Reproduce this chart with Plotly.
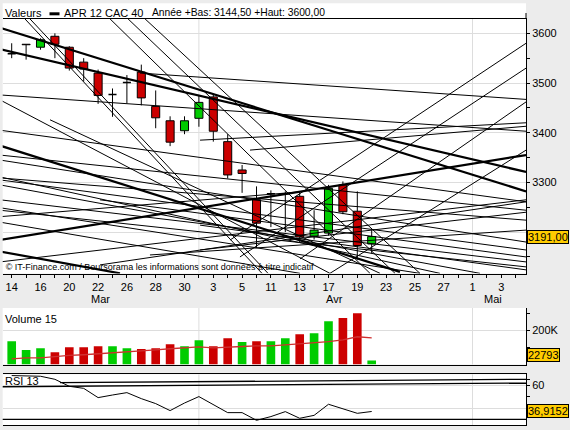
import plotly.graph_objects as go

# ---------------- data ----------------
# trading-day index 0..25  = 14 Mar 2012 .. 20 Apr 2012 (axis extends to 4 May)
day_ticks = list(range(0, 35, 2))
day_labels = ["14", "16", "20", "22", "26", "28", "30", "3", "5", "11", "13",
              "17", "19", "23", "25", "27", "1", "3"]
month_labels = ["Mar", "Avr", "Mai"]
month_pos = [6.2, 22.45, 33.4]
month_starts = [13, 32]

opens = [3559, 3578, 3572, 3594, 3572, 3542, 3520, 3477, 3501, 3522, 3453, 3424, 3404,
         3429, 3472, 3382, 3325, 3265, 3277, 3277, 3272, 3192, 3198, 3295, 3242, 3176]
highs = [3580, 3578, 3590, 3600, 3574, 3550, 3527, 3489, 3516, 3537, 3485, 3433, 3433,
         3476, 3478, 3397, 3335, 3292, 3284, 3282, 3282, 3244, 3295, 3302, 3282, 3204]
lows = [3550, 3547, 3567, 3550, 3525, 3503, 3458, 3432, 3459, 3455, 3409, 3373, 3397,
        3412, 3382, 3308, 3279, 3168, 3210, 3200, 3180, 3185, 3193, 3236, 3144.5, 3157]
closes = [3559, 3577, 3587, 3578, 3530, 3528, 3475, 3477, 3501, 3470, 3430, 3381, 3424,
          3461, 3403, 3315, 3318, 3218, 3277, 3277, 3190, 3204, 3288, 3241, 3173, 3191]

volumes = [136000, 84000, 95000, 72000, 101000, 101000, 107000, 107000, 95000, 90000,
           95000, 119000, 107000, 142000, 107000, 154000, 131000, 136000, 136000,
           154000, 177000, 183000, 253000, 271000, 300000, 22793]
vol_up = [1, 1, 1, 0, 0, 0, 0, 1, 1, 0, 0, 0, 1, 1, 0, 0, 1, 0, 1, 1, 0, 1, 1, 0, 0, 1]
vol_ma = [33000, 39000, 39000, 47000, 53000, 57000, 62000, 68000, 74000, 80000, 86000,
          92000, 97000, 103000, 97000, 103000, 105000, 109000, 109000, 115000, 121000,
          127000, 134000, 144000, 162000, 156000]

rsi = [68.7, 68.7, 68.1, 65.4, 59.2, 57.4, 49.2, 51.5, 53.6, 48.3, 43.9, 37.7, 44.4,
       50.1, 43.3, 35.9, 35.9, 29.1, 32.4, 36.8, 30.9, 33.5, 43.3, 39.5, 35.3, 36.9152]

# drawn trend lines on the price panel: (day0, price0, day1, price1)
thin_lines = [
    (0.92, 3629, 17.38, 3117), (1.27, 3629, 17.80, 3117),
    (6.83, 3629, 24.88, 3117), (8.08, 3629, 26.62, 3117), (9.26, 3629, 28.35, 3117),
    (8.91, 3520, 35.72, 3467),
    (15.16, 3184, 35.72, 3580), (15.85, 3150, 35.72, 3530), (20.02, 3146, 35.72, 3462),
    (22.10, 3117, 35.72, 3365),
    (13.08, 3385, 35.72, 3420), (16.55, 3365, 35.72, 3413),
    (-0.81, 3476, 35.72, 3403),
    (-0.81, 3405, 35.72, 3261), (6.13, 3134, 35.72, 3261),
    (-0.81, 3355, 35.72, 3244), (13.08, 3164, 35.72, 3240),
    (-0.81, 3309, 35.72, 3224), (9.60, 3154, 35.72, 3204),
    (-0.81, 3345, 35.72, 3180), (-0.81, 3305, 35.72, 3164),
    (6.13, 3265, 35.72, 3150), (-0.81, 3265, 35.72, 3140),
    (-0.81, 3244, 35.72, 3130), (13.08, 3214, 35.72, 3124),
    (-0.81, 3220, 20.02, 3117), (-0.81, 3249, 28.35, 3117),
    (-0.81, 3295, 32.52, 3117), (-0.81, 3311, 29.74, 3117),
    (2.66, 3426, 25.58, 3117), (-0.81, 3466, 22.10, 3117),
    (-0.81, 3140, 35.72, 3265), (-0.81, 3231, 20.02, 3281),
]
thick_lines = [
    (-0.81, 3611, 35.72, 3282),
    (-0.81, 3568, 35.72, 3321),
    (-0.81, 3184, 35.72, 3355),
    (-0.81, 3374, 26.96, 3120),
    (-0.81, 3161, 7.52, 3117),
]
rsi_lines = [(3.35, 62.4, 35.72, 65.4), (-0.81, 58.8, 35.72, 62.1), (-0.81, 30, 35.72, 30)]

last_price = "3191,00"
last_volume = "22793"
last_rsi = "36,9152"

# ---------------- figure ----------------
W, H = 570, 430
X0, X1 = -0.625, 35.715
RED, GREEN = "#CC0000", "#00CC00"
n = len(opens)
days = list(range(n))

fig = go.Figure()

# candle wicks (above and below the bodies)
wx, wy = [], []
for i in days:
    lo_b, hi_b = min(opens[i], closes[i]), max(opens[i], closes[i])
    wx += [i, i, None, i, i, None]
    wy += [lows[i], lo_b, None, hi_b, highs[i], None]
fig.add_trace(go.Scatter(x=wx, y=wy, mode="lines", line=dict(color="black", width=1),
                         xaxis="x", yaxis="y", hoverinfo="skip"))

# candle bodies
bx, bb, bh, bc = [], [], [], []
dx, dy = [], []
for i in days:
    if abs(closes[i] - opens[i]) < 0.5:
        dx += [i - 0.28, i + 0.28, None]
        dy += [opens[i], opens[i], None]
    else:
        bx.append(i)
        bb.append(min(opens[i], closes[i]))
        bh.append(abs(closes[i] - opens[i]))
        bc.append(GREEN if closes[i] > opens[i] else RED)
fig.add_trace(go.Bar(x=bx, y=bh, base=bb, width=0.56,
                     marker=dict(color=bc, line=dict(color="black", width=1)),
                     xaxis="x", yaxis="y", hoverinfo="skip"))
fig.add_trace(go.Scatter(x=dx, y=dy, mode="lines", line=dict(color="black", width=1.5),
                         xaxis="x", yaxis="y", hoverinfo="skip"))

# watermark (under the trend lines)
fig.add_trace(go.Scatter(x=[-0.42], y=[3128], mode="text",
                         text=["© IT-Finance.com / Boursorama les informations sont données à titre indicatif"],
                         textposition="middle right",
                         textfont=dict(size=9, color="black", family="Liberation Sans, Arial"),
                         xaxis="x", yaxis="y", hoverinfo="skip"))


def seg(lines):
    xs, ys = [], []
    for a, p, b, q in lines:
        xs += [a, b, None]
        ys += [p, q, None]
    return xs, ys


tx, ty = seg(thin_lines)
fig.add_trace(go.Scatter(x=tx, y=ty, mode="lines", line=dict(color="black", width=1),
                         xaxis="x", yaxis="y", hoverinfo="skip"))
tx, ty = seg(thick_lines)
fig.add_trace(go.Scatter(x=tx, y=ty, mode="lines", line=dict(color="black", width=2.2),
                         xaxis="x", yaxis="y", hoverinfo="skip"))

# volume
fig.add_trace(go.Bar(x=days, y=volumes, width=0.6,
                     marker=dict(color=[GREEN if u else RED for u in vol_up], line=dict(width=0)),
                     xaxis="x2", yaxis="y2", hoverinfo="skip"))
fig.add_trace(go.Scatter(x=days, y=vol_ma, mode="lines", line=dict(color="#D03030", width=1.3),
                         xaxis="x2", yaxis="y2", hoverinfo="skip"))

# RSI
rx, ry = seg(rsi_lines)
fig.add_trace(go.Scatter(x=rx, y=ry, mode="lines", line=dict(color="black", width=1.3),
                         xaxis="x3", yaxis="y3", hoverinfo="skip"))
fig.add_trace(go.Scatter(x=days, y=rsi, mode="lines", line=dict(color="black", width=1),
                         xaxis="x3", yaxis="y3", hoverinfo="skip"))


def py(v):
    return 1 - v / H


xdom = [2.7 / W, 526 / W]
axis_common = dict(domain=xdom, range=[X0, X1], showgrid=False, zeroline=False,
                   showline=True, linecolor="black", linewidth=1)
yfont = dict(size=11, color="black", family="Liberation Sans, Arial")

fig.update_layout(
    width=W, height=H, margin=dict(l=0, r=0, t=0, b=0),
    paper_bgcolor="#ECECEC", plot_bgcolor="white", showlegend=False,
    font=dict(family="Liberation Sans, Arial, sans-serif", size=11, color="black"),
    barmode="overlay",
    xaxis=dict(**axis_common, anchor="y", mirror=True,
               tickmode="array", tickvals=day_ticks, ticktext=day_labels,
               ticks="outside", ticklen=3, tickcolor="black", tickfont=yfont,
               minor=dict(tickmode="array", tickvals=list(range(1, 36, 2)),
                          ticks="outside", ticklen=3, tickcolor="black")),
    xaxis2=dict(**axis_common, anchor="y2", showticklabels=False, ticks=""),
    xaxis3=dict(**axis_common, anchor="y3", mirror=True, showticklabels=False, ticks=""),
    yaxis=dict(domain=[py(273.5), py(19)], range=[3116.7, 3628.8], anchor="x", side="right",
               showline=True, linecolor="black", zeroline=False,
               tickmode="array", tickvals=[3200, 3300, 3400, 3500, 3600],
               ticktext=["", "3300", "3400", "3500", "3600"],
               ticks="outside", ticklen=3, tickcolor="black", tickfont=yfont,
               showgrid=True, gridcolor="#DDDDDD",
               minor=dict(tickmode="array", tickvals=[3150, 3250, 3350, 3450, 3550],
                          ticks="outside", ticklen=3, tickcolor="black", showgrid=False)),
    yaxis2=dict(domain=[py(364.5), py(308)], range=[0, 330000], anchor="x2", side="right",
                showline=True, linecolor="black", zeroline=False,
                tickmode="array", tickvals=[200000], ticktext=["200K"],
                ticks="outside", ticklen=3, tickcolor="black", tickfont=yfont,
                showgrid=True, gridcolor="#DDDDDD",
                minor=dict(tickmode="array", tickvals=[100000, 300000],
                           ticks="outside", ticklen=3, tickcolor="black", showgrid=False)),
    yaxis3=dict(domain=[py(425), py(374.3)], range=[24.96, 69.83], anchor="x3", side="right",
                showline=True, linecolor="black", zeroline=False,
                tickmode="array", tickvals=[40, 60], ticktext=["", "60"],
                ticks="outside", ticklen=3, tickcolor="black", tickfont=yfont,
                showgrid=True, gridcolor="#DDDDDD",
                minor=dict(tickmode="array", tickvals=[50, 65],
                           ticks="outside", ticklen=3, tickcolor="black", showgrid=False)),
)

shapes = [
    dict(type="rect", xref="paper", yref="paper", x0=2.7 / W, x1=526 / W, y0=py(19), y1=py(3.3),
         fillcolor="white", line=dict(width=0), layer="below"),
    dict(type="rect", xref="paper", yref="paper", x0=49.5 / W, x1=59.5 / W, y0=py(15.3), y1=py(12.3),
         fillcolor="black", line=dict(width=0)),
    dict(type="line", xref="paper", yref="paper", x0=526 / W, x1=526 / W, y0=py(19), y1=py(13),
         line=dict(color="black", width=1)),
]
for ax, yr in (("x", "y"), ("x2", "y2"), ("x3", "y3")):
    for m in month_starts:
        shapes.append(dict(type="line", xref=ax, yref=yr + " domain", x0=m, x1=m, y0=0, y1=1,
                           line=dict(color="#DDDDDD", width=1), layer="below"))
fig.update_layout(shapes=shapes)

ann = []
for txt, x in (("Valeurs", 3), ("APR 12 CAC 40", 62), ("Année +Bas: 3144,50 +Haut: 3600,00", 150)):
    ann.append(dict(text=txt, x=x / W, y=py(12.5), xref="paper", yref="paper",
                    xanchor="left", yanchor="middle", showarrow=False,
                    font=dict(size=11 if x < 100 else 10.3, color="black", family="Liberation Sans, Arial")))
for txt, m in zip(month_labels, month_pos):
    ann.append(dict(text=txt, x=m, y=py(298.5), xref="x", yref="paper",
                    xanchor="center", yanchor="middle", showarrow=False, font=yfont))
ann.append(dict(text="Volume 15", x=3 / W, y=py(319), xref="paper", yref="paper",
                xanchor="left", yanchor="middle", showarrow=False, font=yfont))
ann.append(dict(text="RSI 13", x=3 / W, y=py(381), xref="paper", yref="paper",
                xanchor="left", yanchor="middle", showarrow=False, font=yfont))
box = dict(xref="paper", x=526.7 / W, xanchor="left", yanchor="middle", showarrow=False,
           bgcolor="#FFCC00", bordercolor="black", borderwidth=1, borderpad=0, font=yfont)
ann.append(dict(text=last_price, y=closes[-1], yref="y", **box))
ann.append(dict(text=last_volume, y=55000, yref="y2", **box))
ann.append(dict(text=last_rsi, y=rsi[-1], yref="y3", **box))
fig.update_layout(annotations=ann)

fig.write_html("out.html")
